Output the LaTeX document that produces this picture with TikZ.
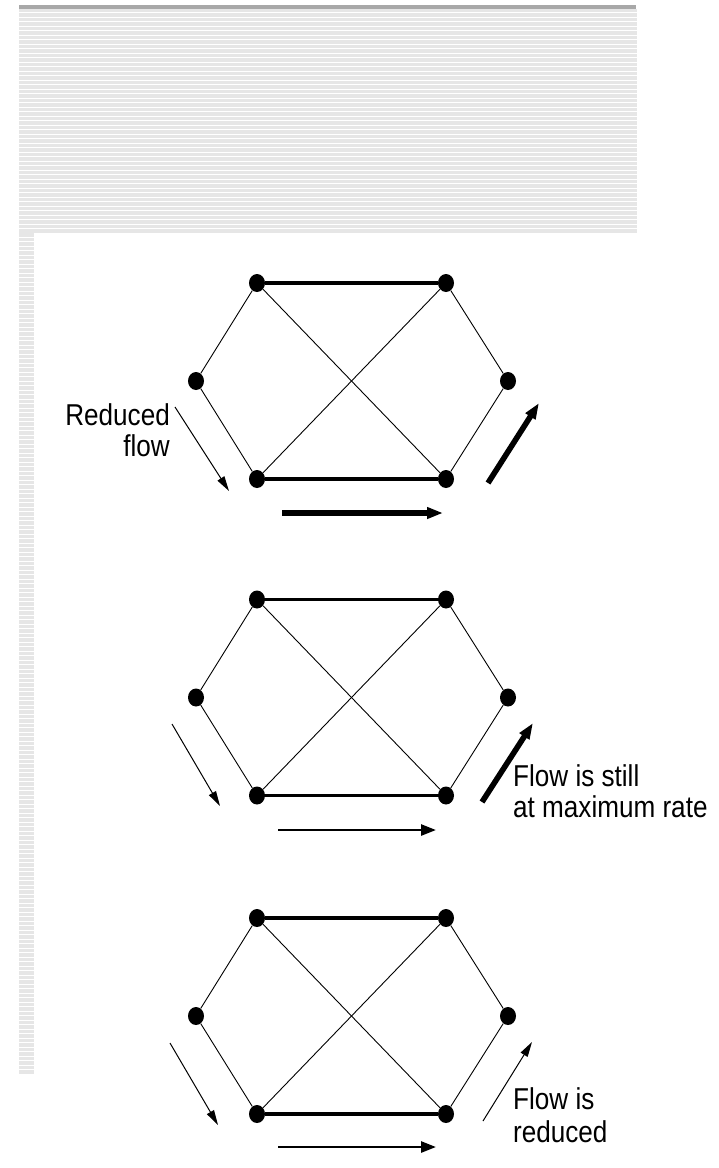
\documentclass[tikz,border=0pt]{standalone}
\usepackage{fontspec}
\setmainfont{Liberation Sans}
\usetikzlibrary{arrows.meta,shapes.geometric}
\definecolor{stripegray}{HTML}{E6E6E6}
\definecolor{rulegray}{HTML}{A8A8A8}
\newcommand{\narrow}[1]{\scalebox{0.9}[1.04]{#1}}
\begin{document}
\begin{tikzpicture}[x=1pt,y=-1pt,
  vertex/.style={shape=ellipse,fill=black,draw=none,inner sep=0pt,
                 minimum width=16pt,minimum height=18pt},
  thinedge/.style={line width=0.9pt},
  thickedge/.style={line width=3.2pt},
  thinflow/.style={line width=1pt,-{Triangle[length=15pt,width=8pt]}},
  midflow/.style={line width=2.6pt,-{Triangle[length=15pt,width=11pt]}},
  heavyflow/.style={line width=5.6pt,-{Triangle[length=16pt,width=11pt]}},
  caption/.style={inner sep=0pt,font=\fontsize{29}{34}\selectfont}
]
\useasboundingbox (0,0) rectangle (719,1168);
\fill[white] (0,0) rectangle (719,1168);

% striped banner across the top
\fill[rulegray] (19,5) rectangle (636,8.5);
\foreach \i in {0,...,49}
  \fill[stripegray] (19,{8.5+4.5*\i}) rectangle (637,{12+4.5*\i});
% striped strip down the left margin
\foreach \i in {0,...,186}
  \fill[stripegray] (19,{233+4.5*\i}) rectangle (34,{236.5+4.5*\i});

% the three copies of the six-node network
\foreach \k/\dy in {1/0,2/316.5,3/635}{
  \node[vertex] (tl\k) at (257,283+\dy) {};
  \node[vertex] (tr\k) at (446,283+\dy) {};
  \node[vertex] (ml\k) at (196,381+\dy) {};
  \node[vertex] (mr\k) at (508,381+\dy) {};
  \node[vertex] (bl\k) at (257,479+\dy) {};
  \node[vertex] (br\k) at (446,479+\dy) {};
  \draw[thickedge] (tl\k) -- (tr\k);
  \draw[thickedge] (bl\k) -- (br\k);
  \draw[thinedge] (tl\k) -- (ml\k) -- (bl\k);
  \draw[thinedge] (tr\k) -- (mr\k) -- (br\k);
  \draw[thinedge] (tl\k) -- (br\k);
  \draw[thinedge] (tr\k) -- (bl\k);
}

% flow arrows, first network
\coordinate (in1s) at (175,407);  \coordinate (in1e) at (229,491);
\coordinate (lo1s) at (282,513);  \coordinate (lo1e) at (443,513);
\coordinate (out1s) at (488,483); \coordinate (out1e) at (539,403);
\draw[thinflow] (in1s) -- (in1e);
\draw[heavyflow] (lo1s) -- (lo1e);
\draw[heavyflow] (out1s) -- (out1e);

% flow arrows, second network
\coordinate (in2s) at (172,724);  \coordinate (in2e) at (220,806);
\coordinate (lo2s) at (278,830);  \coordinate (lo2e) at (436,830);
\coordinate (out2s) at (482,802); \coordinate (out2e) at (533,723);
\draw[thinflow] (in2s) -- (in2e);
\draw[midflow] (lo2s) -- (lo2e);
\draw[heavyflow] (out2s) -- (out2e);

% flow arrows, third network
\coordinate (in3s) at (170,1043);  \coordinate (in3e) at (218,1125);
\coordinate (lo3s) at (278,1147);  \coordinate (lo3e) at (436,1147);
\coordinate (out3s) at (483,1121); \coordinate (out3e) at (532,1042);
\draw[thinflow] (in3s) -- (in3e);
\draw[midflow] (lo3s) -- (lo3e);
\draw[thinflow] (out3s) -- (out3e);

% captions
\node[caption,anchor=base east] (capA1) at (170,425) {\narrow{Reduced}};
\node[caption,anchor=base east] (capA2) at (170,456) {\narrow{flow}};
\node[caption,anchor=base west] (capB1) at (513,786) {\narrow{Flow is still}};
\node[caption,anchor=base west] (capB2) at (513,817) {\narrow{at maximum rate}};
\node[caption,anchor=base west] (capC1) at (513,1109) {\narrow{Flow is}};
\node[caption,anchor=base west] (capC2) at (513,1142) {\narrow{reduced}};
\end{tikzpicture}
\end{document}
